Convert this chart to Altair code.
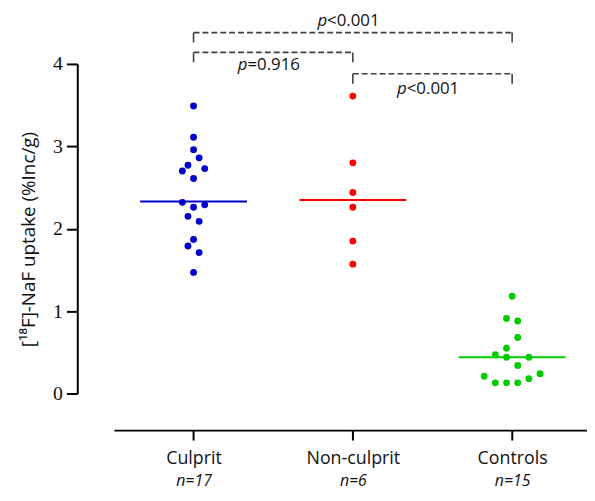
import altair as alt
import pandas as pd

# ---- data ----
groups = ["Culprit", "Non-culprit", "Controls"]
n_labels = ["n=17", "n=6", "n=15"]
colors = ["#0000CC", "#FF0000", "#00CC00"]

culprit_values = [3.49, 3.11, 2.96, 2.86, 2.77, 2.70, 2.73, 2.61, 2.32, 2.26, 2.29,
                  2.15, 2.09, 1.87, 1.79, 1.71, 1.47]
culprit_slots = [0, 0, 0, 1, -1, -2, 2, 0, -2, 0, 2, -1, 1, 0, -1, 1, 0]

noncul_values = [3.61, 2.80, 2.44, 2.26, 1.85, 1.57]
noncul_slots = [0, 0, 0, 0, 0, 0]

control_values = [1.18, 0.91, 0.88, 0.68, 0.55, 0.47, 0.44, 0.44, 0.34, 0.21,
                  0.13, 0.13, 0.13, 0.18, 0.24]
control_slots = [0, -1, 1, 1, -1, -3, -1, 3, 1, -5, -3, -1, 1, 3, 5]

medians = [2.33, 2.35, 0.44]

# comparisons
cmp_from = ["Culprit", "Culprit", "Non-culprit"]
cmp_to = ["Controls", "Non-culprit", "Controls"]
cmp_op = ["<0.001", "=0.916", "<0.001"]
cmp_level = [4.38, 4.14, 3.88]
cmp_label_y = [4.52, 3.99, 3.69]

# ---- build tables ----
JIT = 0.0351  # width of one jitter slot in category units
gidx = {g: i + 1 for i, g in enumerate(groups)}

rows = []
for g, vals, slots in [("Culprit", culprit_values, culprit_slots),
                       ("Non-culprit", noncul_values, noncul_slots),
                       ("Controls", control_values, control_slots)]:
    for v, s in zip(vals, slots):
        rows.append({"group": g, "value": v, "x": gidx[g] + s * JIT})
pts = pd.DataFrame(rows)

med = pd.DataFrame({"group": groups, "x": [gidx[g] for g in groups], "value": medians})
cat = pd.DataFrame({"group": groups, "x": [gidx[g] for g in groups], "n": n_labels})

br_rows, tick_rows, lab_rows = [], [], []
for a, b, op, lv, ly in zip(cmp_from, cmp_to, cmp_op, cmp_level, cmp_label_y):
    xa, xb = gidx[a], gidx[b]
    br_rows.append({"x": xa, "x2": xb, "value": lv})
    tick_rows.append({"x": xa, "value": lv, "y2": lv - 0.12})
    tick_rows.append({"x": xb, "value": lv, "y2": lv - 0.12})
    lab_rows.append({"x": (xa + xb) / 2, "value": ly, "p": "p", "rest": op})
br = pd.DataFrame(br_rows)
bt = pd.DataFrame(tick_rows)
lab = pd.DataFrame(lab_rows)

XDOM = [0.5, 3.47]
label_expr = " : ".join(
    [f"datum.value == {gidx[g]} ? '{g}'" for g in groups[:-1]] + [f"'{groups[-1]}'"])
n_expr = " : ".join(
    [f"datum.value == {gidx[g]} ? '{n}'" for g, n in zip(groups[:-1], n_labels[:-1])]
    + [f"'{n_labels[-1]}'"])

FONT = "Open Sans"
xscale = alt.Scale(domain=XDOM, nice=False, zero=False)
yscale = alt.Scale(domain=[0, 4], nice=False)
color_scale = alt.Scale(domain=groups, range=colors)

x_axis = alt.Axis(values=[1, 2, 3], labelExpr=label_expr, title=None, grid=False,
                  offset=37, domainColor="black", domainWidth=2, tickColor="black",
                  tickWidth=2, tickSize=10, labelFont=FONT, labelFontSize=18,
                  labelColor="#111111", labelPadding=10, orient="bottom")
y_axis = alt.Axis(values=[0, 1, 2, 3, 4], title="[¹⁸F]-NaF uptake (%Inc/g)", grid=False,
                  offset=37, domainColor="black", domainWidth=2, tickColor="black",
                  tickWidth=2, tickSize=11, labelFont="Liberation Serif",
                  labelFontSize=20, labelColor="#111111", labelPadding=4,
                  titleFont=FONT, titleFontSize=19, titleFontWeight="normal",
                  titleColor="#111111", titlePadding=14, titleY=177)
Y = alt.Y("value:Q", scale=yscale, axis=y_axis)

points = alt.Chart(pts).mark_circle(size=48, opacity=1).encode(
    x=alt.X("x:Q", scale=xscale, axis=x_axis),
    y=Y,
    color=alt.Color("group:N", scale=color_scale, legend=None),
)

medlines = alt.Chart(med).mark_tick(orient="horizontal", size=108, thickness=2,
                                    opacity=1).encode(
    x=alt.X("x:Q", scale=xscale, axis=None),
    y=Y,
    color=alt.Color("group:N", scale=color_scale, legend=None),
)

dash = [6, 3]
bcol = "#404040"
hbr = alt.Chart(br).mark_rule(strokeDash=dash, color=bcol, strokeWidth=1.6).encode(
    x=alt.X("x:Q", scale=xscale, axis=None), x2="x2:Q", y=Y)
vbr = alt.Chart(bt).mark_rule(color=bcol, strokeWidth=1.6).encode(
    x=alt.X("x:Q", scale=xscale, axis=None), y=Y, y2="y2:Q")

ptxt = alt.Chart(lab).mark_text(font=FONT, fontSize=17, fontStyle="italic",
                                align="right", baseline="middle", dx=-26,
                                color="#111111").encode(
    x=alt.X("x:Q", scale=xscale, axis=None), y=Y, text="p:N")
rtxt = alt.Chart(lab).mark_text(font=FONT, fontSize=17, align="left",
                                baseline="middle", dx=-26, color="#111111").encode(
    x=alt.X("x:Q", scale=xscale, axis=None), y=Y, text="rest:N")

n_axis = alt.Axis(values=[1, 2, 3], labelExpr=n_expr, title=None, grid=False,
                  offset=37, domain=False, ticks=False, labelFont=FONT,
                  labelFontSize=16, labelFontStyle="italic", labelColor="#111111",
                  labelPadding=43, orient="bottom")
nlayer = alt.Chart(cat).mark_point(opacity=0).encode(
    x=alt.X("x:Q", scale=xscale, axis=n_axis),
    y=alt.value(0),
)

chart = alt.layer(points, medlines, hbr, vbr, ptxt, rtxt, nlayer).resolve_axis(
    x="independent"
).properties(
    width=478, height=333,
    autosize=alt.AutoSizeParams(type="none"),
    padding={"left": 107, "top": 54, "right": 0, "bottom": 98},
).configure_view(stroke=None)

chart.save("out.html", embed_options={"renderer": "svg", "actions": False})
